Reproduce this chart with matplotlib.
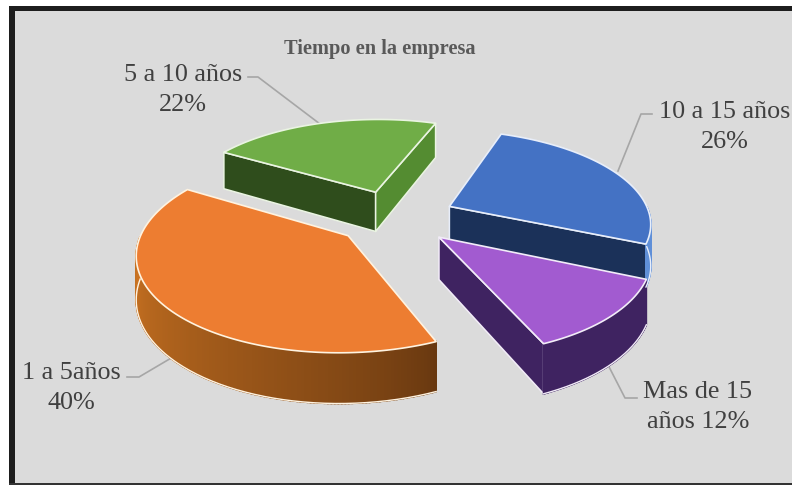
import numpy as np
import matplotlib
matplotlib.use("Agg")
import matplotlib.pyplot as plt
from matplotlib.patches import Polygon, Rectangle

# Survey shares, listed clockwise from the first slice
categories = ["10 a 15 años", "Mas de 15\naños", "1 a 5años", "5 a 10 años"]
shares = [26, 12, 40, 22]
separators = ["\n", " ", "\n", "\n"]
title = "Tiempo en la empresa"

top_colors = ["#4472c4", "#a25bd0", "#ed7d31", "#70ad47"]
cut_colors = ["#1b3159", "#3f2361", "#6b3a10", "#2f4d1c"]
end_colors = ["#1b3159", "#3f2361", "#6b3a10", "#548c31"]
wall_from = ["#5f8fd8", "#3f2361", "#683810", "#548c31"]
wall_to = ["#5f8fd8", "#3f2361", "#cc7422", "#548c31"]
edge_colors = ["#e8eefa", "#f2ecf8", "#fff3e0", "#eaf4e2"]

label_xy = [(725, 127), (698, 407), (71, 388), (183, 90)]
leaders = [
    [(652, 115), (641, 115), (618, 172)],
    [(637, 399), (625, 399), (605, 360)],
    [(127, 378), (139, 378), (178, 355)],
    [(248, 78), (258, 78), (320, 125)],
]

# Projection of the tilted disc
CX, CY = 395, 218
RADIUS = 201
TILT = 0.456
PERSP = 0.16
DEPTH = 41
EXPLODE = 0.30
START_DEG = 20


def project(u, v, z=0.0):
    s = 1.0 / (1.0 - PERSP * v)
    return CX + RADIUS * u * s, CY + RADIUS * TILT * v * s + DEPTH * z * s


def rim(theta, ox, oy):
    return ox + np.sin(theta), oy - np.cos(theta)


def blend(c0, c1, t):
    a = np.array(matplotlib.colors.to_rgb(c0))
    b = np.array(matplotlib.colors.to_rgb(c1))
    return tuple(a + (b - a) * t)


def wall(ax, p, q, color, edge):
    pts = [project(*p), project(*q), project(*q, 1), project(*p, 1)]
    ax.add_patch(Polygon(pts, closed=True, facecolor=color, edgecolor=edge, lw=1.1, joinstyle="round"))


fig = plt.figure(figsize=(7.92, 4.89), dpi=100, facecolor="white")
ax = fig.add_axes([0, 0, 1, 1])
ax.set_xlim(0, 792)
ax.set_ylim(489, 0)
ax.axis("off")

# Panel and its dark frame
ax.add_patch(Rectangle((9, 7), 783, 479, facecolor="#dbdbdb", edgecolor="none", zorder=0))
ax.add_patch(Rectangle((9, 7), 6, 479, facecolor="#1d1d1d", edgecolor="none", zorder=0.1))
ax.add_patch(Rectangle((9, 7), 783, 5, facecolor="#1d1d1d", edgecolor="none", zorder=0.1))
ax.add_patch(Rectangle((9, 484), 783, 2, facecolor="#333333", edgecolor="none", zorder=0.1))

fractions = np.cumsum([0] + shares) / sum(shares)
angles = np.radians(START_DEG) + 2 * np.pi * fractions

# Back slices first so the nearer ones overlap them
for i in [3, 0, 2, 1]:
    a0, a1 = angles[i], angles[i + 1]
    mid = (a0 + a1) / 2
    ox, oy = EXPLODE * np.sin(mid), -EXPLODE * np.cos(mid)
    thetas = np.linspace(a0, a1, 180)
    us, vs = rim(thetas, ox, oy)
    edge = edge_colors[i]

    # Flat cut faces that look towards the viewer
    if -np.cos(a0 - np.pi / 2) > 0:
        wall(ax, (ox, oy), (us[0], vs[0]), cut_colors[i], edge)
    if -np.cos(a1 + np.pi / 2) > 0:
        wall(ax, (ox, oy), (us[-1], vs[-1]), end_colors[i], edge)

    # Curved outer wall, built from narrow strips carrying the shading
    front = np.where(-np.cos(thetas) > 0)[0]
    if front.size > 1:
        for n, (j, k) in enumerate(zip(front[:-1], front[1:])):
            t = (n / max(front.size - 2, 1)) ** 0.8
            col = blend(wall_from[i], wall_to[i], t)
            pts = [project(us[j], vs[j]), project(us[k], vs[k]),
                   project(us[k], vs[k], 1), project(us[j], vs[j], 1)]
            ax.add_patch(Polygon(pts, closed=True, facecolor=col, edgecolor=col, lw=1.2))
        low = [project(us[j], vs[j], 1) for j in front]
        ax.plot(*zip(*low), color=edge, lw=1.0)

    # Top face
    outline = [project(ox, oy)] + [project(u, v) for u, v in zip(us, vs)]
    ax.add_patch(Polygon(outline, closed=True, facecolor=top_colors[i], edgecolor=edge, lw=1.2, joinstyle="round"))

# Leader lines sit under the slices; data labels go on top
serif = "Liberation Serif"
for i, path in enumerate(leaders):
    ax.plot(*zip(*path), color="#a6a6a6", lw=1.2, solid_joinstyle="round", zorder=0.5)
    ax.text(label_xy[i][0], label_xy[i][1], f"{categories[i]}{separators[i]}{shares[i]}%",
            ha="center", va="center", family=serif, fontsize=18.8, color="#404040", linespacing=1.43)

ax.text(380, 49, title, ha="center", va="center", family=serif, fontsize=14.7,
        fontweight="bold", color="#595959")

fig.savefig("out.png", dpi=100, facecolor="white")
